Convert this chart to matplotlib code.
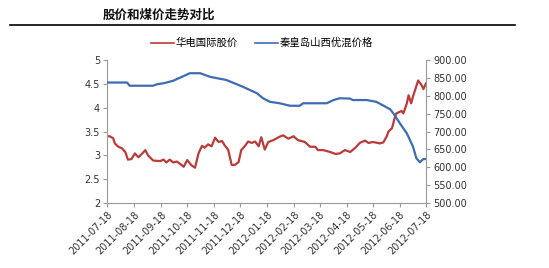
import matplotlib
matplotlib.use("Agg")
import matplotlib.pyplot as plt
from matplotlib.lines import Line2D
import pandas as pd

plt.rcParams['font.family'] = ['DejaVu Sans', 'Noto Sans CJK SC']

title = "股价和煤价走势对比"
red_label = "华电国际股价"
blue_label = "秦皇岛山西优混价格"

red_dates = ["2011-07-18", "2011-07-21", "2011-07-25", "2011-07-27", "2011-07-31", "2011-08-04",
             "2011-08-08", "2011-08-11", "2011-08-15", "2011-08-19", "2011-08-23", "2011-08-27",
             "2011-08-31", "2011-09-03", "2011-09-09", "2011-09-17", "2011-09-21", "2011-09-24",
             "2011-09-28", "2011-10-02", "2011-10-06", "2011-10-10", "2011-10-14", "2011-10-18",
             "2011-10-23", "2011-10-27", "2011-10-31", "2011-11-04", "2011-11-07", "2011-11-11",
             "2011-11-15", "2011-11-19", "2011-11-23", "2011-11-27", "2011-11-30", "2011-12-04",
             "2011-12-08", "2011-12-12", "2011-12-16", "2011-12-19", "2011-12-23", "2011-12-27",
             "2011-12-31", "2012-01-04", "2012-01-08", "2012-01-11", "2012-01-15", "2012-01-19",
             "2012-01-25", "2012-02-01", "2012-02-05", "2012-02-11", "2012-02-17", "2012-02-22",
             "2012-03-01", "2012-03-07", "2012-03-13", "2012-03-16", "2012-03-22", "2012-03-30",
             "2012-04-05", "2012-04-10", "2012-04-16", "2012-04-22", "2012-04-28", "2012-05-03",
             "2012-05-09", "2012-05-13", "2012-05-18", "2012-05-26", "2012-05-30", "2012-06-03",
             "2012-06-05", "2012-06-09", "2012-06-12", "2012-06-14", "2012-06-20", "2012-06-22",
             "2012-06-26", "2012-06-28", "2012-07-01", "2012-07-03", "2012-07-09", "2012-07-13",
             "2012-07-15", "2012-07-18"]
red_values = [3.40, 3.40, 3.36, 3.25, 3.18, 3.15,
              3.07, 2.91, 2.92, 3.04, 2.96, 3.03,
              3.11, 3.00, 2.89, 2.88, 2.91, 2.85,
              2.91, 2.85, 2.87, 2.82, 2.76, 2.90,
              2.79, 2.74, 3.04, 3.20, 3.16, 3.23,
              3.19, 3.37, 3.28, 3.30, 3.21, 3.12,
              2.80, 2.80, 2.86, 3.11, 3.19, 3.29,
              3.26, 3.29, 3.19, 3.38, 3.12, 3.28,
              3.32, 3.39, 3.42, 3.35, 3.40, 3.32,
              3.28, 3.18, 3.18, 3.11, 3.11, 3.07,
              3.03, 3.04, 3.11, 3.07, 3.16, 3.26,
              3.31, 3.26, 3.28, 3.25, 3.27, 3.40,
              3.50, 3.57, 3.78, 3.88, 3.93, 3.88,
              4.09, 4.26, 4.09, 4.23, 4.57, 4.47,
              4.39, 4.51]

blue_dates = ["2011-07-18", "2011-08-10", "2011-08-13", "2011-09-09", "2011-09-13", "2011-09-21",
              "2011-10-02", "2011-10-12", "2011-10-21", "2011-11-02", "2011-11-13", "2011-12-02",
              "2011-12-21", "2012-01-06", "2012-01-13", "2012-01-21", "2012-02-01", "2012-02-13",
              "2012-02-24", "2012-02-28", "2012-03-26", "2012-04-03", "2012-04-10", "2012-04-22",
              "2012-04-25", "2012-05-11", "2012-05-22", "2012-06-01", "2012-06-07", "2012-06-12",
              "2012-06-18", "2012-06-26", "2012-07-03", "2012-07-07", "2012-07-11", "2012-07-15",
              "2012-07-18"]
blue_values = [837, 837, 828, 828, 832, 835,
               842, 853, 863, 863, 853, 844,
               825, 807, 793, 783, 779, 772,
               772, 779, 779, 788, 793, 792,
               788, 788, 783, 770, 762, 746,
               723, 695, 658, 625, 614, 623,
               623]

left_ticks = [2, 2.5, 3, 3.5, 4, 4.5, 5]
right_ticks = [500, 550, 600, 650, 700, 750, 800, 850, 900]
x_ticks = ["2011-07-18", "2011-08-18", "2011-09-18", "2011-10-18", "2011-11-18", "2011-12-18",
           "2012-01-18", "2012-02-18", "2012-03-18", "2012-04-18", "2012-05-18", "2012-06-18",
           "2012-07-18"]

red_c = "#BC3A3A"
blue_c = "#3D6CB3"
grey = "#9A9A9A"

fig = plt.figure(figsize=(5.49, 2.68), dpi=100)
ax = fig.add_axes([107/549, 1-203/268, (426-107)/549, (203-60)/268])
ax2 = ax.twinx()

ax.plot(pd.to_datetime(red_dates), red_values, color=red_c, lw=1.6)
ax2.plot(pd.to_datetime(blue_dates), blue_values, color=blue_c, lw=1.6)

xt = pd.to_datetime(x_ticks)
ax.set_xlim(xt[0], xt[-1])
ax.set_xticks(xt)
ax.set_xticklabels([d.strftime("%Y-%m-%d") for d in xt], rotation=45, ha='right',
                   rotation_mode='anchor', fontsize=7, color="#333333")
ax.set_ylim(2, 5)
ax.set_yticks(left_ticks)
ax.set_yticklabels([f"{v:g}" for v in left_ticks], fontsize=7, color="#333333")
ax2.set_ylim(500, 900)
ax2.set_yticks(right_ticks)
ax2.set_yticklabels([f"{v:.2f}" for v in right_ticks], fontsize=7, color="#333333")

for a in (ax, ax2):
    a.spines['top'].set_visible(False)
    for s in ('left', 'right', 'bottom'):
        a.spines[s].set_color(grey)
        a.spines[s].set_linewidth(0.8)
    a.tick_params(axis='both', colors=grey, labelcolor="#333333", length=3, width=0.8, pad=2)
ax.spines['right'].set_visible(False)
ax2.spines['left'].set_visible(False)
ax2.spines['bottom'].set_visible(False)

fig.text(103/549, 1-15/268, title, fontsize=9, fontweight='bold', va='center', ha='left',
         family=['Noto Sans CJK SC', 'DejaVu Sans'], color="#111111")
fig.add_artist(Line2D([10/549, 515/549], [1-24.5/268, 1-24.5/268], color='black', lw=1.2,
                      transform=fig.transFigure))

handles = [Line2D([], [], color=red_c, lw=1.2), Line2D([], [], color=blue_c, lw=1.2)]
fig.legend(handles, [red_label, blue_label], loc='center', bbox_to_anchor=(262/549, 1-43/268),
           ncol=2, frameon=False, handlelength=2.2, handletextpad=0.2,
           columnspacing=1.6, prop={'family': ['Noto Sans CJK SC', 'DejaVu Sans'], 'size': 7.5})

fig.savefig("out.png", dpi=100, facecolor='white')
